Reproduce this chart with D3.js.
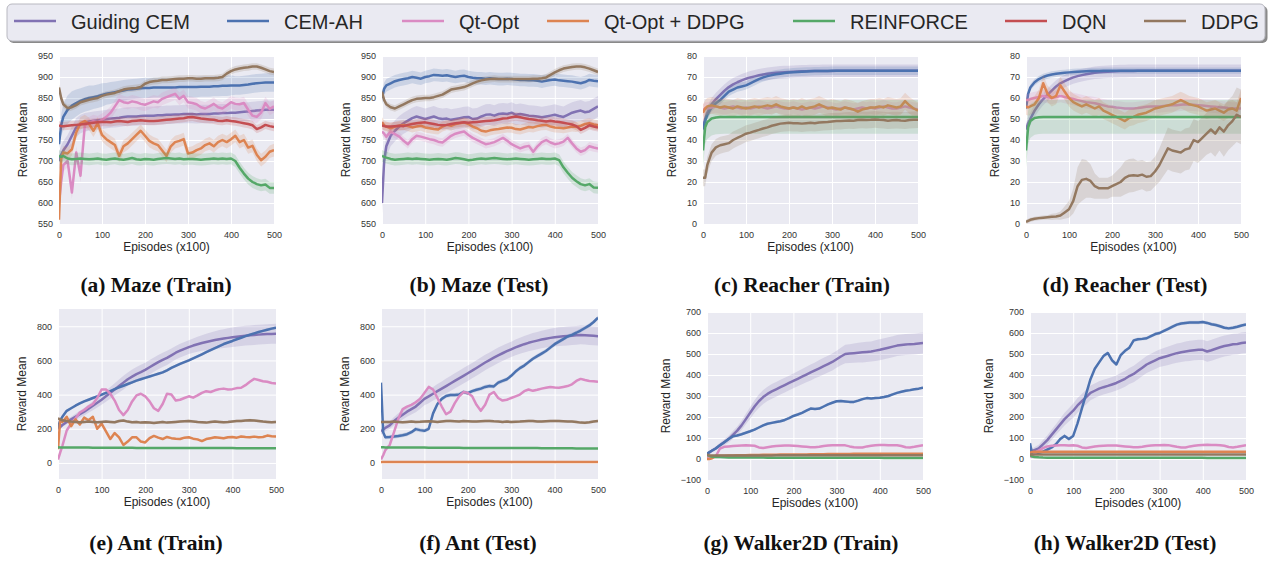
<!DOCTYPE html>
<html>
<head>
<meta charset="utf-8">
<script src="https://cdn.jsdelivr.net/npm/d3@7"></script>
<style>
  body { margin: 0; background: #fff; }
  svg { display: block; }
</style>
</head>
<body>
<div id="chart"></div>
<script>
// episodes (x100) shared by all curves
const episodes = [0, 5, 10, 20, 30, 40, 50, 60, 70, 80, 90, 100,
  110, 120, 130, 140, 150, 160, 170, 180, 190, 200,
  210, 220, 230, 240, 250, 260, 270, 280, 290, 300,
  310, 320, 330, 340, 350, 360, 370, 380, 390, 400,
  410, 420, 430, 440, 450, 460, 470, 480, 490, 500];

const methods = ["Guiding CEM", "CEM-AH", "Qt-Opt", "Qt-Opt + DDPG", "REINFORCE", "DQN", "DDPG"];
const methodColors = ["#8172B3", "#4C72B0", "#DA8BC3", "#DD8452", "#55A868", "#C44E52", "#937860"];

const episodeTicks = [0, 100, 200, 300, 400, 500];
const mazeTicks = [550, 600, 650, 700, 750, 800, 850, 900, 950];
const reacherTicks = [0, 10, 20, 30, 40, 50, 60, 70, 80];
const antTicks = [0, 200, 400, 600, 800];
const walkerTicks = [-100, 0, 100, 200, 300, 400, 500, 600, 700];

// ---- Maze (Train)
const mazeTrainGuiding = [700, 715, 725, 740, 760, 780, 788, 792, 794, 796, 797, 798,
  800, 801, 802, 803, 805, 806, 806, 806, 807, 808,
  808, 808, 809, 809, 810, 810, 811, 811, 812, 812,
  812, 811, 812, 812, 812, 813, 813, 814, 814, 815,
  815, 816, 817, 818, 819, 820, 821, 822, 822, 822];
const mazeTrainCemAh = [740, 785, 805, 822, 832, 838, 843, 847, 850, 852, 854, 857,
  860, 862, 864, 866, 868, 870, 871, 872, 873, 874,
  874, 875, 875, 875, 875, 875, 875, 876, 876, 876,
  876, 876, 877, 877, 877, 878, 878, 879, 879, 880,
  880, 880, 881, 882, 884, 885, 886, 887, 887, 887];
const mazeTrainCemAhSd = [10, 25, 32, 34, 34, 32, 30, 30, 30, 28, 28, 28,
  26, 26, 25, 25, 25, 24, 24, 24, 24, 24,
  24, 24, 24, 24, 24, 24, 24, 24, 24, 24,
  24, 24, 24, 24, 24, 24, 24, 24, 24, 24,
  22, 22, 22, 22, 22, 22, 22, 22, 22, 22];
const mazeTrainQtOpt = [600, 650, 690, 700, 625, 720, 665, 785, 790, 795, 792, 798,
  805, 815, 830, 845, 840, 838, 842, 840, 836, 834,
  838, 842, 840, 848, 852, 856, 860, 848, 855, 840,
  838, 835, 828, 825, 830, 836, 828, 825, 832, 840,
  836, 835, 838, 822, 808, 805, 815, 838, 824, 830];
const mazeTrainQtDdpg = [560, 705, 720, 718, 728, 768, 790, 795, 788, 772, 790, 762,
  752, 745, 738, 712, 735, 742, 752, 762, 772, 760,
  748, 742, 738, 725, 712, 735, 745, 748, 752, 718,
  720, 726, 730, 738, 742, 735, 745, 750, 745, 752,
  760, 745, 750, 732, 736, 715, 702, 710, 722, 726];
const mazeTrainReinforce = [712, 710, 712, 706, 704, 705, 706, 705, 704, 705, 706, 704,
  703, 705, 706, 704, 703, 705, 707, 704, 703, 705,
  704, 703, 705, 706, 707, 706, 705, 706, 704, 705,
  705, 704, 703, 704, 705, 706, 705, 706, 705, 706,
  700, 684, 670, 658, 650, 645, 642, 644, 636, 636];
const mazeTrainDqn = [785, 783, 783, 784, 785, 786, 787, 788, 790, 791, 792, 793,
  793, 792, 794, 795, 794, 793, 795, 796, 797, 796,
  795, 795, 796, 797, 798, 799, 800, 801, 802, 804,
  805, 803, 801, 800, 799, 798, 796, 795, 797, 795,
  794, 792, 790, 788, 785, 776, 780, 786, 783, 781];
const mazeTrainDdpg = [875, 850, 835, 826, 828, 833, 840, 843, 846, 848, 850, 855,
  858, 860, 862, 866, 870, 872, 873, 874, 876, 884,
  888, 890, 891, 893, 893, 894, 895, 896, 896, 897,
  897, 896, 896, 897, 897, 897, 898, 900, 908, 914,
  918, 920, 922, 923, 925, 925, 922, 918, 914, 912];

// ---- Maze (Test)
const mazeTestGuiding = [600, 700, 735, 760, 772, 782, 790, 796, 802, 806, 803, 800,
  803, 806, 802, 800, 801, 798, 800, 802, 804, 805,
  800, 801, 806, 810, 811, 808, 812, 813, 812, 815,
  810, 812, 810, 808, 807, 806, 804, 806, 808, 810,
  807, 805, 810, 815, 818, 820, 816, 818, 824, 830];
const mazeTestCemAh = [850, 872, 880, 885, 890, 893, 895, 897, 900, 898, 896, 900,
  902, 905, 904, 903, 904, 902, 900, 902, 903, 900,
  898, 897, 897, 896, 897, 896, 895, 895, 896, 895,
  894, 893, 893, 892, 892, 891, 889, 891, 893, 894,
  892, 891, 890, 889, 887, 885, 888, 893, 891, 890];
const mazeTestQtOpt = [770, 765, 758, 770, 764, 758, 748, 740, 752, 760, 758, 755,
  752, 750, 746, 744, 752, 760, 765, 768, 770, 762,
  755, 750, 745, 740, 742, 745, 750, 755, 748, 740,
  735, 730, 734, 736, 722, 735, 745, 750, 744, 740,
  742, 746, 755, 742, 730, 722, 726, 735, 732, 730];
const mazeTestQtDdpg = [792, 785, 782, 778, 782, 784, 786, 783, 780, 782, 784, 780,
  778, 776, 775, 782, 786, 784, 788, 790, 792, 788,
  782, 778, 772, 770, 773, 775, 776, 778, 780, 779,
  776, 775, 778, 781, 780, 783, 785, 786, 782, 780,
  779, 778, 780, 782, 781, 784, 788, 790, 787, 785];
const mazeTestReinforce = [712, 710, 708, 705, 703, 704, 705, 706, 705, 706, 705, 704,
  703, 704, 705, 704, 703, 705, 707, 706, 704, 702,
  703, 705, 706, 705, 706, 707, 706, 705, 704, 705,
  706, 705, 704, 703, 704, 705, 706, 705, 705, 706,
  702, 685, 672, 660, 652, 645, 642, 645, 637, 636];
const mazeTestDqn = [785, 783, 782, 782, 783, 784, 783, 786, 788, 790, 791, 792,
  790, 788, 786, 785, 786, 788, 790, 791, 792, 791,
  792, 793, 794, 795, 796, 797, 799, 801, 802, 804,
  806, 804, 802, 800, 799, 797, 796, 794, 796, 794,
  793, 791, 789, 787, 783, 774, 779, 785, 782, 780];
const mazeTestDdpg = [865, 845, 835, 828, 825, 830, 835, 840, 845, 848, 849, 850,
  850, 852, 855, 858, 864, 870, 872, 874, 876, 880,
  885, 889, 892, 894, 895, 896, 895, 895, 895, 895,
  895, 895, 895, 895, 896, 896, 897, 899, 905, 911,
  916, 920, 922, 924, 925, 925, 923, 920, 916, 912];

// ---- Reacher (Train)
const reacherTrainGuiding = [46, 50, 53, 57, 59.5, 61.5, 63.5, 65.2, 66.5, 67.5, 68.4, 69.2,
  69.8, 70.3, 70.8, 71.2, 71.5, 71.8, 72, 72.2, 72.3, 72.4,
  72.5, 72.6, 72.7, 72.7, 72.8, 72.8, 72.8, 72.9, 72.9, 72.9,
  73, 73, 73, 73, 73, 73, 73, 73, 73, 73,
  73, 73, 73, 73, 73, 73, 73, 73, 73, 73];
const reacherTrainCemAh = [45, 49, 52, 55.5, 57.5, 59, 61, 63, 64, 65, 65.5, 66,
  67, 68, 69, 69.8, 70.4, 70.9, 71.3, 71.6, 71.9, 72.1,
  72.3, 72.4, 72.5, 72.6, 72.7, 72.8, 72.8, 72.9, 72.9, 73,
  73, 73, 73, 73, 73, 73, 73, 73, 73, 73,
  73, 73, 73, 73, 73, 73, 73, 73, 73, 73];
const reacherTrainQtOpt = [54, 55, 55, 55.5, 56, 55.5, 55, 55.5, 56, 55.5, 55, 55.5,
  55, 55.5, 56, 55.5, 55, 55.5, 56, 55.5, 55, 55,
  55.5, 55, 54.5, 55, 55.5, 55, 55.5, 56, 55.5, 55,
  54.5, 55, 55.5, 55, 54.5, 55, 55.5, 55, 55.5, 55,
  55.5, 56, 55.5, 55, 55, 55.5, 56, 55.5, 55, 54.5];
const reacherTrainQtDdpg = [53, 55, 56, 56.5, 56, 55.5, 56, 55.5, 55, 56, 55.5, 55,
  55.5, 56, 55.5, 56, 56.5, 56, 57, 56, 55.5, 55,
  55.5, 55, 56, 55, 55.5, 56, 57, 56, 55, 55.5,
  55, 54.5, 55.5, 55, 54.5, 53.5, 54.5, 55, 55.5, 55.5,
  56, 55.5, 56.5, 56, 55.5, 56, 58.5, 56.5, 55, 54];
const reacherTrainReinforce = [35, 46, 48.5, 50.2, 50.7, 50.9, 51, 51, 51, 51, 51, 51,
  51, 51, 51, 51, 51, 51, 51, 51, 51, 51,
  51, 51, 51, 51, 51, 51, 51, 51, 51, 51,
  51, 51, 51, 51, 51, 51, 51, 51, 51, 51,
  51, 51, 51, 51, 51, 51, 51, 51, 51, 51];
const reacherTrainDdpg = [22, 22, 28, 34, 36.5, 37.5, 38, 38.5, 40, 41, 42, 43,
  43.5, 44.2, 44.8, 45.5, 46, 46.8, 47.3, 47.8, 48, 48.2,
  48, 48, 47.8, 48, 48.2, 48, 48.3, 48.5, 48.6, 48.8,
  49, 49, 49.2, 49.3, 49.2, 49.5, 49.6, 49.5, 49.6, 49.8,
  49.6, 49.5, 49.2, 49.4, 49.5, 49.3, 49.2, 49.5, 49.6, 49.7];

// ---- Reacher (Test)
const reacherTestGuiding = [45, 48, 50, 54, 57, 59.5, 61.5, 63.5, 65.5, 67, 68, 69,
  69.8, 70.4, 70.9, 71.3, 71.7, 72, 72.2, 72.4, 72.5, 72.6,
  72.7, 72.8, 72.8, 72.9, 72.9, 73, 73, 73, 73, 73,
  73, 73, 73, 73, 73, 73, 73, 73, 73, 73,
  73, 73, 73, 73, 73, 73, 73, 73, 73, 73];
const reacherTestCemAh = [55, 62, 65, 67.5, 69, 70, 70.7, 71.2, 71.5, 71.8, 72, 72.2,
  72.4, 72.5, 72.6, 72.7, 72.8, 72.9, 72.9, 73, 73, 73,
  73, 73, 73, 73, 73, 73, 73, 73, 73, 73,
  73, 73, 73, 73, 73, 73, 73, 73, 73, 73,
  73, 73, 73, 73, 73, 73, 73, 73, 73, 73];
const reacherTestQtOpt = [59, 59, 59.5, 60, 60.5, 61, 60.5, 60, 60.5, 61, 60.5, 60,
  59.5, 59, 58.5, 58, 57.8, 57.5, 57, 56.5, 56, 55.8,
  55.5, 55.3, 55, 55, 55, 55.2, 55.5, 55.8, 56, 56,
  56, 56.2, 56.4, 56.5, 56.6, 56.8, 57, 56.8, 56.8, 56.6,
  56.4, 56.2, 56, 55.8, 55.6, 55.5, 55.2, 55, 55, 55];
const reacherTestQtDdpg = [56, 55.5, 56, 57, 60, 67, 62, 60, 61, 66, 63, 60,
  58, 57, 56, 57, 56, 55, 56, 54, 53, 52,
  51, 50, 49, 50.5, 51, 52, 52.5, 53, 54, 55,
  55.5, 56, 56.5, 57, 58, 59, 58, 57, 56.5, 56,
  55, 54, 54.5, 55, 54, 53, 54.5, 55, 54, 60];
const reacherTestReinforce = [35, 46, 49, 50.5, 50.8, 51, 51, 51, 51, 51, 51, 51,
  51, 51, 51, 51, 51, 51, 51, 51, 51, 51,
  51, 51, 51, 51, 51, 51, 51, 51, 51, 51,
  51, 51, 51, 51, 51, 51, 51, 51, 51, 51,
  51, 51, 51, 51, 51, 51, 51, 51, 51, 51];
const reacherTestDdpg = [1, 1.5, 2, 2.5, 2.8, 3, 3.2, 3.4, 3.6, 4, 5.5, 7,
  11, 18, 21, 21.5, 20.5, 18, 17, 17, 17, 18,
  19, 20, 22, 23, 23.2, 23, 23.5, 22.5, 22.8, 25,
  28, 32, 36, 35, 34.5, 34, 35.5, 36, 40, 39,
  41, 43, 45, 43, 46, 44, 47, 49, 52, 51];
const reacherTestDdpgSd = [1, 1, 1, 1, 1, 1, 1, 1.5, 1.5, 2, 3, 4,
  6, 9, 10, 9, 8, 6, 5, 5, 5, 5,
  6, 7, 8, 8, 8, 7, 7, 7, 7, 7,
  8, 9, 10, 10, 10, 10, 10, 10, 10, 10,
  10, 10, 11, 11, 11, 12, 12, 12, 13, 13];

// ---- Ant (Train)
const antTrainGuiding = [200, 210, 222, 240, 255, 270, 285, 300, 318, 335, 352, 370,
  390, 410, 430, 450, 470, 490, 505, 520, 532, 545,
  560, 575, 590, 603, 615, 630, 645, 657, 668, 678,
  687, 695, 702, 708, 714, 719, 724, 728, 732, 736,
  739, 742, 745, 747, 749, 751, 753, 754, 755, 756];
const antTrainGuidingSd = [10, 10, 12, 14, 16, 18, 20, 22, 24, 26, 28, 30,
  32, 34, 36, 38, 40, 40, 42, 42, 42, 42,
  42, 42, 42, 42, 42, 40, 40, 40, 40, 40,
  42, 44, 46, 48, 50, 52, 54, 55, 56, 57,
  58, 58, 58, 58, 58, 58, 58, 58, 58, 58];
const antTrainCemAh = [205, 250, 270, 305, 320, 335, 348, 360, 370, 380, 390, 400,
  410, 420, 432, 442, 452, 462, 472, 482, 490, 498,
  506, 514, 522, 530, 542, 556, 568, 580, 590, 600,
  612, 624, 636, 648, 660, 672, 684, 696, 705, 714,
  724, 733, 742, 750, 758, 766, 773, 780, 786, 792];
const antTrainQtOpt = [20, 60, 100, 190, 230, 260, 295, 310, 330, 345, 380, 430,
  430, 405, 365, 310, 280, 310, 360, 395, 405, 390,
  360, 320, 305, 345, 405, 400, 365, 370, 380, 390,
  382, 395, 410, 420, 415, 425, 432, 435, 430, 432,
  438, 440, 455, 475, 492, 485, 478, 475, 468, 465];
const antTrainQtDdpg = [80, 250, 240, 270, 215, 255, 225, 265, 250, 270, 200, 230,
  185, 140, 175, 150, 105, 125, 150, 150, 125, 120,
  145, 158, 148, 140, 152, 145, 142, 140, 148, 150,
  142, 138, 128, 140, 145, 150, 148, 144, 150, 152,
  148, 155, 152, 150, 154, 150, 152, 160, 156, 155];
const antTrainReinforce = [92, 91, 90, 90, 90, 90, 90, 90, 90, 89, 89, 89,
  89, 89, 89, 89, 89, 89, 89, 88, 88, 88,
  88, 88, 88, 88, 88, 88, 88, 88, 88, 88,
  87, 87, 87, 87, 87, 87, 87, 87, 87, 87,
  86, 86, 86, 86, 86, 86, 86, 86, 86, 86];
const antTrainDdpg = [260, 255, 250, 245, 242, 240, 238, 240, 242, 240, 238, 240,
  242, 240, 238, 245, 248, 242, 238, 240, 236, 238,
  236, 234, 237, 240, 236, 238, 240, 242, 244, 245,
  243, 240, 238, 236, 240, 242, 240, 238, 240, 243,
  245, 246, 248, 250, 248, 245, 242, 240, 238, 240];

// ---- Ant (Test)
const antTestGuiding = [185, 195, 205, 220, 245, 265, 282, 300, 315, 330, 352, 375,
  390, 405, 420, 435, 450, 465, 480, 495, 510, 525,
  540, 556, 572, 588, 602, 616, 630, 642, 654, 665,
  676, 686, 695, 703, 710, 716, 722, 727, 732, 736,
  739, 741, 743, 745, 747, 749, 748, 746, 744, 742];
const antTestGuidingSd = [20, 20, 20, 22, 24, 26, 28, 30, 32, 34, 36, 38,
  40, 40, 42, 42, 44, 44, 45, 45, 45, 45,
  45, 45, 45, 45, 45, 45, 45, 45, 45, 45,
  46, 47, 48, 49, 50, 50, 51, 52, 53, 54,
  55, 55, 55, 55, 55, 55, 55, 55, 55, 55];
const antTestCemAh = [470, 180, 150, 152, 155, 158, 162, 168, 180, 198, 192, 188,
  200, 290, 345, 375, 392, 398, 398, 400, 415, 408,
  420, 428, 435, 445, 450, 448, 470, 480, 490, 510,
  535, 555, 570, 590, 610, 625, 640, 655, 675, 695,
  710, 725, 740, 750, 762, 775, 790, 805, 825, 850];
const antTestQtOpt = [20, 45, 75, 105, 180, 260, 315, 330, 340, 355, 375, 410,
  445, 430, 380, 330, 285, 300, 350, 390, 415, 410,
  390, 340, 305, 340, 400, 415, 380, 365, 370, 380,
  390, 400, 420, 430, 422, 428, 435, 440, 445, 442,
  440, 445, 450, 460, 480, 492, 485, 480, 478, 475];
const antTestQtDdpg = [5, 5, 5, 5, 5, 5, 5, 5, 5, 5, 5, 5,
  5, 5, 5, 5, 5, 5, 5, 5, 5, 5,
  5, 5, 5, 5, 5, 5, 5, 5, 5, 5,
  5, 5, 5, 5, 5, 5, 5, 5, 5, 5,
  5, 5, 5, 5, 5, 5, 5, 5, 5, 5];
const antTestReinforce = [92, 92, 91, 91, 91, 90, 90, 90, 90, 90, 90, 90,
  89, 89, 89, 89, 89, 89, 89, 89, 88, 88,
  88, 88, 88, 88, 88, 88, 88, 88, 87, 87,
  87, 87, 87, 87, 87, 87, 86, 86, 86, 86,
  86, 86, 86, 86, 85, 85, 85, 85, 85, 85];
const antTestDdpg = [240, 240, 240, 240, 242, 240, 238, 240, 242, 240, 241, 243,
  244, 242, 240, 243, 245, 246, 244, 242, 245, 244,
  243, 242, 244, 245, 246, 244, 243, 240, 242, 240,
  241, 242, 244, 246, 245, 243, 242, 244, 245, 246,
  245, 244, 243, 242, 240, 236, 235, 238, 242, 245];

// ---- Walker2D (Train)
const walkerTrainGuiding = [25, 30, 38, 50, 65, 80, 95, 115, 135, 160, 190, 220,
  250, 275, 295, 310, 322, 332, 342, 352, 362, 372,
  382, 392, 402, 412, 422, 432, 442, 452, 462, 475,
  488, 500, 502, 504, 506, 508, 510, 512, 516, 520,
  525, 530, 535, 540, 543, 545, 547, 548, 550, 552];
const walkerTrainGuidingSd = [5, 6, 8, 10, 12, 14, 16, 18, 20, 22, 25, 28,
  30, 32, 33, 34, 35, 35, 35, 35, 35, 35,
  36, 36, 37, 38, 38, 39, 40, 40, 40, 40,
  42, 44, 45, 46, 47, 48, 48, 48, 49, 50,
  50, 50, 50, 50, 50, 50, 50, 50, 50, 50];
const walkerTrainCemAh = [25, 32, 38, 50, 65, 80, 95, 108, 112, 118, 125, 132,
  140, 150, 160, 168, 172, 176, 180, 186, 195, 205,
  212, 220, 230, 240, 238, 240, 250, 260, 268, 275,
  276, 274, 272, 272, 278, 285, 290, 288, 290, 292,
  295, 300, 308, 315, 320, 325, 328, 332, 335, 340];
const walkerTrainQtOpt = [8, 8, 10, 12, 50, 58, 60, 62, 63, 64, 65, 64,
  63, 55, 52, 56, 60, 62, 63, 64, 64, 63,
  62, 60, 58, 56, 56, 58, 62, 64, 65, 66,
  66, 65, 60, 56, 55, 55, 60, 63, 66, 67,
  67, 66, 66, 65, 62, 56, 55, 58, 62, 65];
const walkerTrainQtDdpg = [0, 0, 2, 14, 16, 16, 17, 17, 18, 18, 18, 19,
  19, 19, 20, 20, 20, 20, 21, 21, 21, 21,
  22, 22, 22, 23, 23, 23, 23, 24, 24, 24,
  24, 24, 24, 25, 25, 25, 25, 25, 25, 25,
  25, 25, 25, 25, 25, 25, 25, 25, 25, 25];
const walkerTrainReinforce = [20, 15, 12, 10, 9, 8, 7.5, 7, 7, 7, 7, 7,
  7, 7, 7, 6.5, 6.5, 6.5, 6.5, 6.5, 6.5, 6.5,
  6, 6, 6, 6, 6, 6, 6, 6, 6, 6,
  5.5, 5.5, 5.5, 5.5, 5.5, 5.5, 5.5, 5.5, 5.5, 5.5,
  5, 5, 5, 5, 5, 5, 5, 5, 5, 5];
const walkerTrainDdpg = [20, 18, 17, 17, 17, 17, 17, 17, 17, 17, 17, 17,
  17, 17, 17, 17, 17, 18, 18, 18, 18, 18,
  18, 18, 18, 18, 18, 18, 18, 18, 18, 18,
  18, 18, 18, 18, 18, 18, 18, 18, 18, 18,
  18, 18, 18, 18, 18, 18, 18, 18, 18, 18];

// ---- Walker2D (Test)
const walkerTestGuiding = [35, 38, 42, 50, 70, 90, 115, 140, 165, 190, 210, 230,
  255, 275, 295, 315, 325, 335, 342, 348, 355, 362,
  372, 382, 395, 405, 420, 435, 450, 460, 470, 480,
  486, 492, 498, 504, 508, 512, 515, 518, 520, 520,
  512, 518, 525, 532, 538, 542, 546, 548, 552, 555];
const walkerTestGuidingSd = [10, 12, 14, 18, 20, 22, 24, 26, 28, 30, 32, 34,
  35, 35, 35, 35, 35, 35, 35, 35, 36, 36,
  37, 38, 38, 39, 40, 40, 40, 41, 42, 42,
  43, 44, 45, 46, 46, 47, 48, 48, 48, 48,
  49, 50, 50, 50, 50, 50, 50, 50, 50, 50];
const walkerTestCemAh = [75, 25, 25, 30, 35, 45, 55, 70, 95, 110, 95, 110,
  170, 240, 310, 380, 430, 460, 490, 505, 470, 450,
  495, 515, 530, 565, 570, 572, 575, 585, 595, 600,
  610, 620, 630, 640, 645, 648, 650, 650, 650, 652,
  648, 642, 638, 632, 625, 622, 625, 630, 636, 640];
const walkerTestQtOpt = [8, 15, 25, 40, 52, 60, 63, 64, 65, 65, 64, 65,
  63, 55, 52, 56, 60, 62, 63, 64, 64, 64,
  62, 60, 58, 56, 56, 58, 62, 64, 65, 66,
  67, 66, 62, 58, 55, 55, 60, 63, 66, 67,
  68, 67, 67, 66, 63, 57, 55, 58, 62, 65];
const walkerTestQtDdpg = [30, 33, 35, 35, 35, 35, 35, 35, 35, 35, 35, 35,
  35, 35, 35, 35, 35, 35, 35, 35, 35, 35,
  35, 35, 35, 35, 35, 35, 35, 35, 35, 35,
  35, 35, 35, 35, 35, 35, 35, 35, 35, 35,
  35, 35, 35, 35, 35, 35, 35, 35, 35, 35];
const walkerTestReinforce = [20, 12, 10, 8, 7, 6.5, 6, 6, 6, 6, 6, 6,
  6, 6, 6, 6, 6, 6, 6, 6, 6, 6,
  5.5, 5.5, 5.5, 5.5, 5.5, 5.5, 5.5, 5.5, 5.5, 5.5,
  5.5, 5.5, 5.5, 5.5, 5.5, 5.5, 5.5, 5.5, 5.5, 5.5,
  5, 5, 5, 5, 5, 5, 5, 5, 5, 5];
const walkerTestDdpg = [22, 22, 22, 22, 22, 22, 22, 22, 22, 22, 22, 22,
  22, 22, 22, 22, 22, 22, 22, 22, 22, 22,
  22, 22, 22, 22, 22, 22, 22, 22, 22, 22,
  22, 22, 22, 22, 22, 22, 22, 22, 22, 22,
  22, 22, 22, 22, 22, 22, 22, 22, 22, 22];

// series: [method index, mean, spread]
const panels = [
  { caption: "(a) Maze (Train)", box: [59, 274, 56, 224], capX: 156, capY: 286,
    yDomain: [550, 950], yTicks: mazeTicks,
    series: [[0, mazeTrainGuiding, 22], [1, mazeTrainCemAh, mazeTrainCemAhSd], [2, mazeTrainQtOpt, 15],
      [3, mazeTrainQtDdpg, 15], [4, mazeTrainReinforce, 14], [5, mazeTrainDqn, 10], [6, mazeTrainDdpg, 8]] },
  { caption: "(b) Maze (Test)", box: [382, 598, 56, 224], capX: 479, capY: 286,
    yDomain: [550, 950], yTicks: mazeTicks,
    series: [[0, mazeTestGuiding, 25], [1, mazeTestCemAh, 15], [2, mazeTestQtOpt, 10],
      [3, mazeTestQtDdpg, 12], [4, mazeTestReinforce, 14], [5, mazeTestDqn, 10], [6, mazeTestDdpg, 8]] },
  { caption: "(c) Reacher (Train)", box: [703, 918, 56, 224], capX: 802, capY: 286,
    yDomain: [0, 80], yTicks: reacherTicks,
    series: [[0, reacherTrainGuiding, 3], [1, reacherTrainCemAh, 2], [2, reacherTrainQtOpt, 3],
      [3, reacherTrainQtDdpg, 4], [4, reacherTrainReinforce, 8], [6, reacherTrainDdpg, 4]] },
  { caption: "(d) Reacher (Test)", box: [1026, 1241, 56, 224], capX: 1125, capY: 286,
    yDomain: [0, 80], yTicks: reacherTicks,
    series: [[0, reacherTestGuiding, 3], [1, reacherTestCemAh, 1.5], [2, reacherTestQtOpt, 3],
      [3, reacherTestQtDdpg, 4], [4, reacherTestReinforce, 8], [6, reacherTestDdpg, reacherTestDdpgSd]] },
  { caption: "(e) Ant (Train)", box: [58, 276, 309, 479], capX: 156, capY: 544,
    yDomain: [-94, 901], yTicks: antTicks,
    series: [[0, antTrainGuiding, antTrainGuidingSd], [1, antTrainCemAh, 8], [2, antTrainQtOpt, 5],
      [3, antTrainQtDdpg, 6], [4, antTrainReinforce, 3], [6, antTrainDdpg, 8]] },
  { caption: "(f) Ant (Test)", box: [381, 598, 309, 479], capX: 478, capY: 544,
    yDomain: [-94, 901], yTicks: antTicks,
    series: [[0, antTestGuiding, antTestGuidingSd], [1, antTestCemAh, 12], [2, antTestQtOpt, 5],
      [3, antTestQtDdpg, 3], [4, antTestReinforce, 3], [6, antTestDdpg, 8]] },
  { caption: "(g) Walker2D (Train)", box: [707, 923, 312, 480], capX: 801, capY: 544,
    yDomain: [-100, 700], yTicks: walkerTicks,
    series: [[0, walkerTrainGuiding, walkerTrainGuidingSd], [1, walkerTrainCemAh, 6], [2, walkerTrainQtOpt, 3],
      [3, walkerTrainQtDdpg, 2], [4, walkerTrainReinforce, 2], [6, walkerTrainDdpg, 2]] },
  { caption: "(h) Walker2D (Test)", box: [1030, 1246, 312, 480], capX: 1125, capY: 544,
    yDomain: [-100, 700], yTicks: walkerTicks,
    series: [[0, walkerTestGuiding, walkerTestGuidingSd], [1, walkerTestCemAh, 8], [2, walkerTestQtOpt, 3],
      [3, walkerTestQtDdpg, 2], [4, walkerTestReinforce, 2], [6, walkerTestDdpg, 2]] }
];

const W = 1276, H = 561;
const svg = d3.select("#chart").append("svg")
  .attr("width", W).attr("height", H)
  .style("font-family", "'Liberation Sans', Arial, sans-serif");

// legend
const legendX = [14, 227, 402, 547, 793, 1005, 1144];
const legend = svg.append("g");
legend.append("rect").attr("x", 8.5).attr("y", 6).attr("width", 1259).attr("height", 37)
  .attr("rx", 5).attr("fill", "#8a8a8a");
legend.append("rect").attr("x", 7).attr("y", 4).attr("width", 1258).attr("height", 37)
  .attr("rx", 5).attr("fill", "#eaeaf2").attr("stroke", "#b8b8c0").attr("stroke-width", 1);
methods.forEach((m, i) => {
  legend.append("line").attr("x1", legendX[i]).attr("x2", legendX[i] + 42)
    .attr("y1", 21).attr("y2", 21)
    .attr("stroke", methodColors[i]).attr("stroke-width", 2.4);
  legend.append("text").attr("x", legendX[i] + 57).attr("y", 29)
    .attr("font-size", 20).attr("fill", "#262626").text(m);
});

panels.forEach((p, pi) => {
  const [x0, x1, y0, y1] = p.box;
  const x = d3.scaleLinear().domain([0, 500]).range([x0, x1]);
  const y = d3.scaleLinear().domain(p.yDomain).range([y1, y0]);
  const g = svg.append("g");

  g.append("rect").attr("x", x0).attr("y", y0).attr("width", x1 - x0).attr("height", y1 - y0)
    .attr("fill", "#eaeaf2");

  const yAxis = g.append("g").attr("transform", `translate(${x0},0)`)
    .call(d3.axisLeft(y).tickValues(p.yTicks).tickSize(-(x1 - x0)).tickPadding(6).tickFormat(d3.format("d")));
  const xAxis = g.append("g").attr("transform", `translate(0,${y1})`)
    .call(d3.axisBottom(x).tickValues(episodeTicks).tickSize(-(y1 - y0)).tickPadding(8));
  [yAxis, xAxis].forEach(a => {
    a.select(".domain").remove();
    a.selectAll("line").attr("stroke", "#fff").attr("stroke-width", 1);
    a.selectAll("text").attr("font-size", 9).attr("fill", "#333")
      .style("font-family", "'Liberation Sans', Arial, sans-serif");
  });

  const clipId = "clip" + pi;
  g.append("clipPath").attr("id", clipId).append("rect")
    .attr("x", x0).attr("y", y0).attr("width", x1 - x0).attr("height", y1 - y0);
  const plot = g.append("g").attr("clip-path", `url(#${clipId})`);

  p.series.forEach(([mi, vals, sd]) => {
    const spread = i => (Array.isArray(sd) ? sd[i] : sd);
    const area = d3.area()
      .x((d, i) => x(episodes[i]))
      .y0((d, i) => y(d - spread(i)))
      .y1((d, i) => y(d + spread(i)));
    const line = d3.line().x((d, i) => x(episodes[i])).y(d => y(d));
    plot.append("path").datum(vals).attr("d", area)
      .attr("fill", methodColors[mi]).attr("fill-opacity", 0.2);
    plot.append("path").datum(vals).attr("d", line)
      .attr("fill", "none").attr("stroke", methodColors[mi]).attr("stroke-width", 2.5)
      .attr("stroke-linejoin", "round");
  });

  // axis labels
  let maxW = 0;
  yAxis.selectAll("text").each(function () { maxW = Math.max(maxW, this.getComputedTextLength()); });
  g.append("text").attr("transform", `translate(${x0 - 6 - maxW - 11},${(y0 + y1) / 2}) rotate(-90)`)
    .attr("text-anchor", "middle").attr("font-size", 12).attr("fill", "#262626").text("Reward Mean");
  g.append("text").attr("x", (x0 + x1) / 2).attr("y", y1 + 27)
    .attr("text-anchor", "middle").attr("font-size", 12).attr("fill", "#262626").text("Episodes (x100)");

  svg.append("text").attr("x", p.capX).attr("y", p.capY + 6)
    .attr("text-anchor", "middle").attr("font-size", 21.5).attr("font-weight", "bold")
    .attr("fill", "#111").style("font-family", "'Liberation Serif', 'Times New Roman', serif")
    .text(p.caption);
});
</script>
</body>
</html>
